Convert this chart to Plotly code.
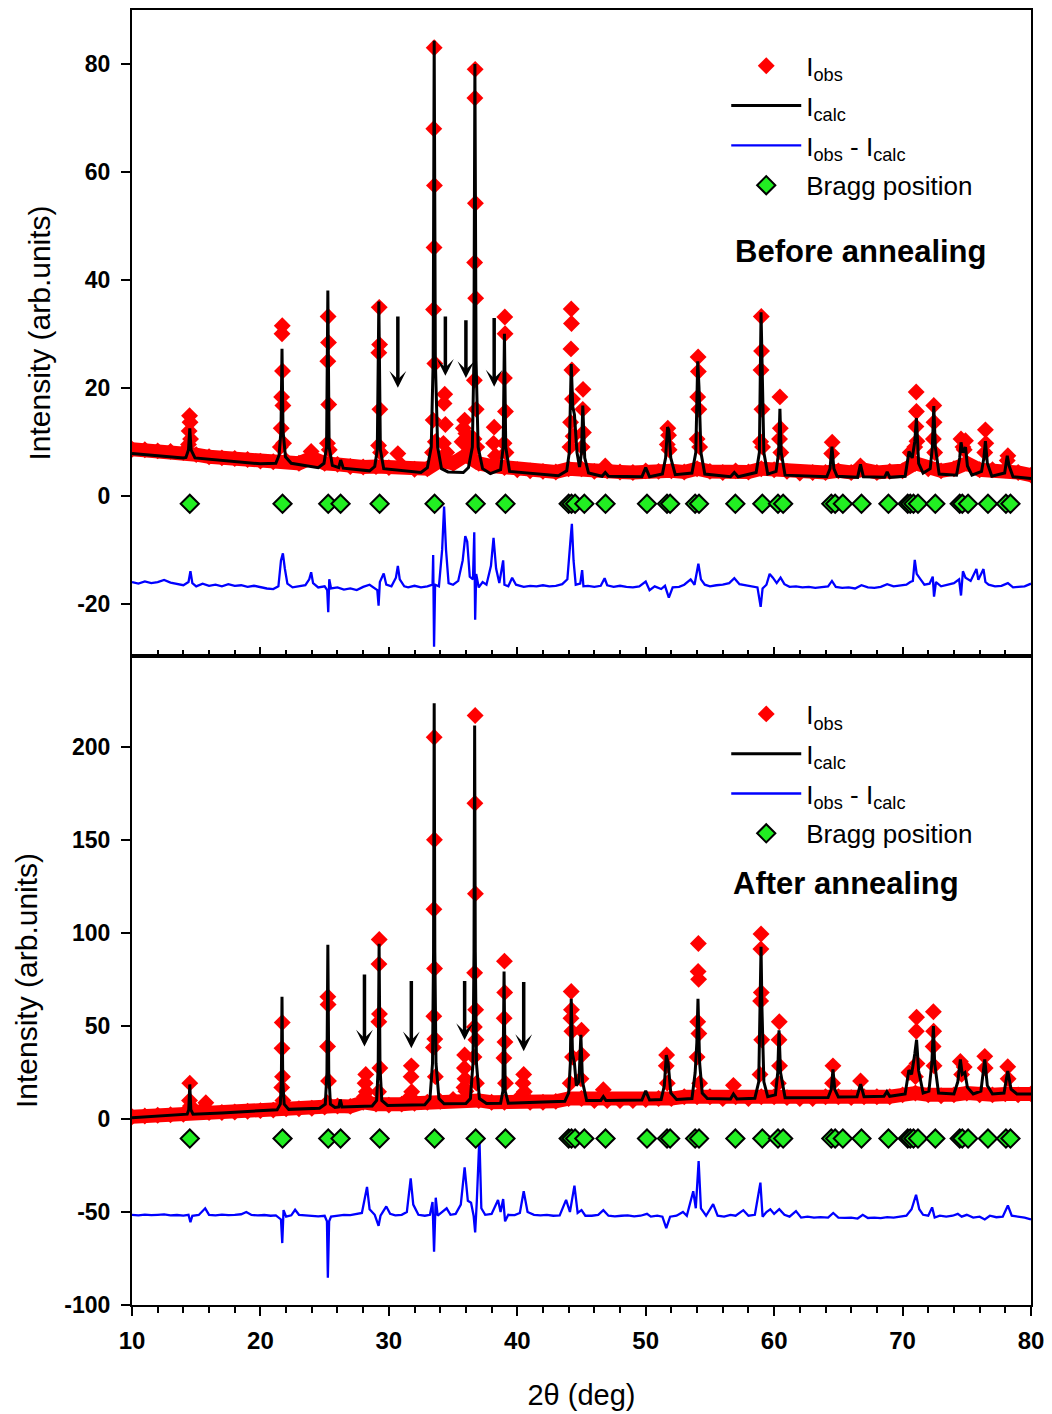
import plotly.graph_objects as go

# ---------------- shared ----------------
bragg_pos = [14.5, 21.72, 25.28, 26.24, 29.28, 33.56, 36.76, 39.08, 44.0, 44.22, 44.5, 45.22,
             46.87, 50.1, 51.66, 51.9, 53.85, 54.15, 56.98, 59.08, 60.3, 60.7, 64.45, 64.75,
             65.35, 66.8, 68.9, 70.4, 70.6, 70.85, 71.2, 72.55, 74.45, 74.65, 75.1, 76.65,
             78.05, 78.4]
x_ticks = [10, 20, 30, 40, 50, 60, 70, 80]
top_y_ticks = [-20, 0, 20, 40, 60, 80]
top_y_labels = ["-20", "0", "20", "40", "60", "80"]
bot_y_ticks = [-100, -50, 0, 50, 100, 150, 200]
bot_y_labels = ["-100", "-50", "0", "50", "100", "150", "200"]
top_bragg_y = -1.5
bot_bragg_y = -10.5

# ---------------- top panel : before annealing ----------------
top_bg_x = list(range(10, 81))
top_bg_y = [8.6, 8.5, 8.3, 8.2, 8.0, 7.6, 7.2, 7.0, 6.9, 6.7, 6.4, 6.3, 6.5, 6.0, 7.0, 6.0,
            5.8, 5.4, 5.3, 5.4, 5.2, 5.6, 4.9, 5.0, 6.5, 6.0, 7.5, 6.0, 5.5, 5.2, 4.8, 4.6,
            4.5, 4.4, 5.0, 5.0, 4.5, 4.6, 4.4, 4.3, 4.6, 4.5, 4.6, 4.4, 5.0, 4.5, 4.3, 4.6,
            4.4, 5.0, 4.8, 4.5, 4.2, 4.3, 4.3, 4.6, 4.3, 4.8, 4.3, 4.5, 4.6, 6.0, 5.0, 4.6,
            5.0, 6.0, 4.8, 4.8, 4.8, 4.3, 3.8]

top_obs_x = [14.48, 14.52, 14.45, 14.56, 14.4,
             21.7, 21.68, 21.72, 21.65, 21.75, 21.62, 21.8, 21.55,
             23.95,
             25.27, 25.3, 25.25, 25.32, 25.22, 25.36,
             29.25, 29.28, 29.22, 29.3, 29.2, 29.35,
             30.7,
             33.53, 33.5, 33.55, 33.52, 33.48, 33.58, 33.45, 33.62, 33.4,
             34.35, 34.3, 34.4, 34.25, 34.5,
             35.9, 35.8, 36.0, 35.7, 36.1, 36.3,
             36.72, 36.7, 36.74, 36.68, 36.76, 36.66, 36.8, 36.63, 36.85,
             38.2, 38.15, 38.3,
             39.03, 39.05, 39.0, 39.08, 38.97, 39.12,
             44.2, 44.22, 44.18, 44.25, 44.3, 44.15, 44.35, 44.1,
             45.12, 45.1, 45.15, 45.05,
             46.85,
             51.72, 51.78, 51.68, 51.82,
             54.08, 54.1, 54.05, 54.14, 54.0, 54.2,
             59.0, 59.02, 58.98, 59.05, 58.95, 59.1,
             60.45, 60.48, 60.42, 60.52,
             64.52, 64.48,
             66.72,
             71.06, 71.08, 71.04, 71.12, 70.95, 70.6,
             72.43, 72.45, 72.4, 72.5,
             74.55, 74.7, 74.9, 74.8,
             76.45, 76.48, 76.4,
             78.2, 78.15]
top_obs_y = [14.8, 13.6, 12.0, 10.5, 9.5,
             31.5, 30.0, 23.1, 18.3, 16.7, 12.5, 9.7, 9.0,
             8.2,
             33.2, 28.4, 24.9, 16.9, 9.7, 8.5,
             34.9, 28.0, 26.5, 16.0, 9.3, 8.0,
             7.8,
             83.0, 68.0, 57.5, 46.0, 34.5, 24.5, 14.0, 10.0, 8.0,
             18.8, 17.1, 13.2, 9.7, 8.0,
             14.0, 12.5, 11.5, 10.0, 9.5, 8.5,
             79.0, 73.7, 54.2, 43.2, 36.6, 21.4, 16.0, 10.5, 9.0,
             12.7, 9.7, 7.4,
             33.1, 30.0, 21.8, 15.6, 9.7, 8.0,
             34.6, 31.9, 27.2, 23.3, 17.9, 13.6, 11.0, 9.0,
             19.7, 16.0, 11.7, 9.0,
             5.5,
             12.5, 11.2, 9.5, 8.5,
             25.7, 23.0, 18.3, 16.0, 10.5, 9.0,
             33.2, 26.8, 23.3, 16.0, 10.0, 9.0,
             18.3, 12.5, 10.5, 8.0,
             9.9, 7.8,
             5.5,
             19.2, 15.6, 12.8, 10.1, 9.0, 8.0,
             16.7, 13.6, 10.5, 8.0,
             10.5, 9.0, 10.2, 8.5,
             12.2, 9.7, 8.0,
             7.4, 6.5]

top_calc_x = [10, 12, 14, 14.2, 14.4, 14.5, 14.6, 14.9, 17, 20, 21.2, 21.45, 21.6, 21.68,
              21.76, 21.95, 22.4, 24.5, 24.95, 25.15, 25.25, 25.35, 25.6, 26.1, 26.25, 26.45,
              28.5, 28.9, 29.1, 29.22, 29.34, 29.6, 32.5, 33.0, 33.3, 33.45, 33.53, 33.62,
              33.8, 34.1, 34.6, 35.8, 36.2, 36.5, 36.62, 36.7, 36.79, 36.95, 37.3, 37.9,
              38.7, 38.9, 39.0, 39.1, 39.4, 43.2, 43.85, 44.05, 44.2, 44.32, 44.45, 44.65,
              44.85, 45.0, 45.1, 45.25, 45.55, 46.6, 46.85, 47.1, 49.7, 50.0, 50.3, 51.3,
              51.55, 51.7, 51.8, 51.95, 52.3, 53.6, 53.9, 54.05, 54.15, 54.3, 54.6, 56.6,
              56.9, 57.2, 58.6, 58.85, 58.98, 59.08, 59.2, 59.5, 60.15, 60.35, 60.45, 60.55,
              60.85, 64.1, 64.35, 64.5, 64.65, 64.9, 66.5, 66.72, 66.95, 68.6, 68.8, 69.0,
              70.2, 70.5, 70.75, 70.95, 71.08, 71.25, 71.6, 72.15, 72.32, 72.43, 72.55, 72.85,
              74.2, 74.45, 74.55, 74.7, 74.9, 75.05, 75.4, 76.15, 76.33, 76.45, 76.6, 76.95,
              77.95, 78.15, 78.3, 78.6, 80]
top_calc_y = [7.8, 7.4, 7.0, 7.1, 8.5, 12.5, 8.5, 7.0, 6.5, 5.9, 6.0, 7.5, 12.0, 27.2,
              12.0, 7.2, 6.0, 5.2, 6.0, 9.0, 38.0, 9.0, 5.6, 5.2, 6.6, 5.1,
              4.6, 5.4, 8.5, 36.0, 8.5, 5.0, 4.3, 5.2, 9.0, 25.0, 84.3, 25.0,
              9.0, 5.0, 4.4, 4.3, 5.2, 9.0, 25.0, 80.0, 25.0, 9.0, 5.0, 4.1,
              4.8, 9.0, 30.0, 9.0, 4.5, 3.7, 4.6, 8.0, 24.4, 16.5, 15.0, 8.0,
              5.3, 8.0, 16.7, 7.0, 4.2, 3.6, 4.3, 3.6, 3.5, 5.2, 3.5, 4.0,
              7.0, 12.7, 12.2, 7.0, 3.9, 4.2, 8.0, 24.9, 20.0, 8.0, 4.0, 3.5,
              4.3, 3.5, 4.3, 8.0, 34.0, 24.0, 8.0, 4.0, 4.5, 8.0, 16.1, 8.0,
              3.8, 3.5, 5.0, 9.1, 5.0, 3.6, 3.4, 5.8, 3.5, 3.4, 4.4, 3.4,
              3.6, 8.2, 7.0, 10.0, 14.4, 6.0, 4.2, 5.0, 9.0, 16.6, 9.0, 4.0,
              3.8, 7.0, 9.9, 8.0, 9.0, 5.5, 3.8, 4.5, 7.0, 10.1, 6.0, 3.6,
              4.2, 7.4, 5.5, 3.5, 3.2]

top_diff_x = [10, 10.5, 11, 11.5, 12, 12.5, 13, 13.5, 14, 14.4, 14.55, 14.7, 15, 15.5, 16,
              16.5, 17, 17.5, 18, 18.5, 19, 19.5, 20, 20.5, 21, 21.4, 21.6, 21.75, 21.9,
              22.1, 22.5, 23, 23.5, 23.8, 23.95, 24.1, 24.5, 25.0, 25.2, 25.28, 25.36,
              25.5, 26, 26.5, 27, 27.5, 28, 28.5, 29.1, 29.2, 29.3, 29.6, 29.8, 30.2,
              30.55, 30.7, 30.85, 31.2, 31.5, 32, 32.5, 33.0, 33.4, 33.45, 33.52, 33.6,
              33.9, 34.15, 34.3, 34.45, 34.65, 35.0, 35.4, 35.75, 35.95, 36.1, 36.3,
              36.55, 36.65, 36.72, 36.8, 37.0, 37.3, 37.6, 37.95, 38.15, 38.35, 38.6,
              38.9, 39.0, 39.3, 39.6, 39.9, 40.5, 41.0, 41.5, 42, 42.5, 43, 43.5, 43.9,
              44.15, 44.25, 44.38, 44.55, 44.9, 45.05, 45.15, 45.5, 46, 46.5, 46.8, 47.0,
              47.5, 48, 48.5, 49, 49.5, 50.0, 50.3, 50.7, 51.2, 51.5, 51.8, 52.1, 52.6,
              53.0, 53.5, 53.8, 54.1, 54.3, 54.6, 55, 55.5, 56, 56.5, 56.9, 57.3, 57.8,
              58.3, 58.7, 58.95, 59.1, 59.4, 59.65, 59.9, 60.2, 60.5, 60.8, 61.2, 61.7,
              62.2, 62.7, 63.2, 63.7, 64.2, 64.5, 64.8, 65.3, 65.8, 66.3, 66.8, 67.3,
              67.8, 68.3, 68.8, 69.3, 69.8, 70.3, 70.6, 70.8, 70.95, 71.1, 71.4, 71.7,
              72.1, 72.35, 72.45, 72.6, 73.0, 73.5, 74.0, 74.4, 74.55, 74.7, 74.9, 75.3,
              75.75, 75.9, 76.3, 76.45, 76.7, 77.2, 77.7, 78.2, 78.6, 79.0, 79.5, 80]
top_diff_y = [-16.0, -16.3, -15.9, -16.2, -16.0, -15.6, -16.1, -16.4, -16.6, -16.0, -14.0,
              -16.2, -16.8, -16.3, -16.7, -16.5, -16.8, -16.4, -16.7, -16.6, -16.9, -16.7,
              -17.0, -17.2, -17.3, -16.8, -12.0, -10.7, -13.5, -16.3, -17.0, -16.8, -16.6,
              -15.5, -14.2, -16.2, -17.0, -16.8, -17.5, -21.6, -15.5, -17.2, -17.0, -17.4,
              -17.2, -17.5, -16.9, -16.5, -17.5, -20.4, -16.0, -14.4, -16.5, -16.8, -15.2,
              -13.0, -15.5, -16.8, -17.0, -16.7, -17.0, -16.8, -16.5, -11.0, -28.0, -16.5,
              -16.8, -10.0, -2.0, -10.0, -16.2, -16.5, -15.8, -12.0, -7.5, -8.5, -15.0,
              -15.5, -6.8, -23.0, -14.5, -17.0, -16.0, -16.5, -13.0, -7.8, -13.5, -16.2,
              -12.0, -16.5, -16.8, -15.2, -16.5, -16.9, -16.7, -16.8, -16.6, -16.8, -16.7,
              -16.4, -15.5, -8.0, -5.2, -12.0, -16.5, -16.3, -13.8, -16.8, -16.7, -16.9,
              -16.7, -15.3, -16.6, -16.9, -16.7, -16.9, -17.0, -16.8, -15.9, -17.5, -16.8,
              -17.3, -16.7, -18.9, -17.0, -16.9, -16.5, -15.5, -16.5, -12.6, -15.5, -16.5,
              -16.8, -16.6, -16.5, -16.2, -15.3, -16.4, -16.6, -16.8, -17.0, -20.6, -17.2,
              -16.5, -14.5, -15.2, -16.2, -15.2, -16.4, -16.9, -16.8, -17.0, -16.9, -17.1,
              -17.0, -16.8, -15.8, -16.9, -17.1, -17.0, -17.2, -16.6, -17.0, -17.1, -16.9,
              -16.4, -16.8, -16.6, -16.5, -16.0, -15.8, -11.9, -14.5, -15.5, -16.5, -16.3,
              -15.0, -18.7, -16.0, -16.8, -16.5, -16.2, -15.5, -18.5, -14.0, -15.2, -15.8,
              -13.6, -15.6, -13.6, -16.0, -16.5, -16.8, -16.7, -16.2, -17.0, -16.9, -16.8,
              -16.3]

top_arrow_x = [30.7, 34.4, 36.0, 38.2]
top_arrow_tail = [33.5, 33.5, 32.8, 33.2]
top_arrow_head = [20.0, 22.2, 21.8, 20.2]

# ---------------- bottom panel : after annealing ----------------
bot_bg_x = list(range(10, 81))
bot_bg_y = [1.2, 1.6, 2.0, 2.3, 2.6, 4.0, 3.5, 3.5, 3.8, 4.2, 4.5, 4.8, 5.5, 5.5, 5.8, 6.5,
            7.0, 6.8, 9.0, 8.0, 7.5, 8.0, 8.5, 9.0, 9.5, 10.5, 11.0, 10.0, 9.0, 9.0, 10.5,
            9.0, 9.0, 9.5, 11.0, 11.0, 10.0, 10.0, 10.0, 10.0, 10.5, 11.0, 11.0, 12.0, 12.0,
            12.0, 11.0, 12.0, 11.0, 12.0, 12.0, 11.5, 11.0, 11.0, 12.0, 12.0, 11.5, 12.0,
            12.0, 12.0, 13.0, 14.0, 13.0, 12.5, 13.0, 14.0, 13.0, 13.0, 13.5, 13.0, 13.5]

bot_obs_x = [14.5, 14.48, 14.55,
             15.75, 15.65,
             21.7, 21.68, 21.72, 21.66, 21.75,
             25.25, 25.27, 25.23, 25.3, 25.2,
             28.2, 28.15, 28.25, 28.1,
             29.25, 29.23, 29.27, 29.22, 29.3, 29.2,
             31.75, 31.73, 31.78, 31.65,
             33.53, 33.55, 33.51, 33.56, 33.5, 33.58, 33.47, 33.62,
             35.9, 35.88, 35.93, 35.85, 36.0,
             36.72, 36.7, 36.74, 36.68, 36.76, 36.66, 36.78, 36.63, 36.82,
             39.0, 39.02, 38.98, 39.04, 38.96, 39.08,
             40.5, 40.45, 40.55,
             44.2, 44.22, 44.18, 44.25, 44.3, 44.12,
             45.0, 45.03, 44.96,
             46.7,
             51.63, 51.6, 51.68,
             54.1, 54.08, 54.12, 54.05, 54.14, 54.0, 54.2,
             56.83,
             58.98, 58.97, 59.0, 58.95, 59.03, 58.9,
             60.4, 60.38, 60.42, 60.33,
             64.58, 64.55,
             66.73,
             71.09, 71.07, 71.12, 71.0, 70.5,
             72.4, 72.42, 72.38, 72.45,
             74.5, 74.6, 74.8,
             76.4, 76.43,
             78.19, 78.22]
bot_obs_y = [19.3, 10.0, 7.0,
             8.8, 6.5,
             51.9, 38.0, 22.8, 17.0, 10.0,
             65.8, 61.6, 39.0, 20.5, 8.8,
             24.0, 19.3, 14.7, 12.0,
             96.5, 83.3, 56.5, 52.3, 27.4, 14.7,
             28.6, 22.8, 14.7, 12.0,
             205.3, 150.2, 112.8, 80.9, 55.3, 43.0, 38.4, 22.8,
             34.4, 27.4, 21.6, 17.0, 15.0,
             217.0, 169.8, 121.2, 78.6, 58.8, 49.5, 42.6, 33.3, 19.3,
             84.9, 68.1, 54.2, 41.4, 32.8, 19.3,
             24.0, 19.3, 14.7,
             68.6, 58.8, 54.2, 47.2, 33.3, 19.3,
             47.7, 34.4, 21.6,
             15.8,
             34.4, 28.6, 19.3,
             94.4, 79.3, 75.1, 52.3, 46.0, 33.3, 19.3,
             18.1,
             99.5, 91.4, 68.1, 63.5, 42.6, 24.0,
             52.3, 42.6, 28.6, 19.3,
             28.6, 19.3,
             20.5,
             54.7, 47.2, 29.8, 22.8, 25.0,
             57.7, 47.2, 39.0, 28.6,
             30.9, 24.0, 28.0,
             33.7, 27.4,
             28.1, 21.6]

bot_calc_x = [10, 12, 14, 14.3, 14.42, 14.5, 14.58, 14.75, 17, 20, 21.3, 21.55, 21.63, 21.68,
              21.74, 21.85, 22.2, 24.6, 25.05, 25.18, 25.25, 25.32, 25.45, 25.8, 26.1, 26.22,
              26.35, 28.7, 29.05, 29.17, 29.24, 29.31, 29.45, 29.9, 32.8, 33.2, 33.4, 33.48,
              33.53, 33.58, 33.67, 33.9, 34.3, 36.0, 36.35, 36.55, 36.63, 36.68, 36.73, 36.82,
              37.05, 37.6, 38.7, 38.88, 38.97, 39.06, 39.3, 43.7, 44.0, 44.13, 44.2, 44.3,
              44.45, 44.6, 44.8, 44.95, 45.08, 45.4, 46.5, 46.7, 46.9, 49.7, 50.0, 50.3, 51.2,
              51.45, 51.6, 51.75, 51.95, 52.4, 53.6, 53.85, 53.98, 54.07, 54.2, 54.4, 54.8,
              56.6, 56.83, 57.1, 58.5, 58.8, 58.93, 58.98, 59.05, 59.2, 59.5, 60.1, 60.28,
              60.38, 60.5, 60.85, 64.2, 64.45, 64.58, 64.72, 65.0, 66.45, 66.73, 67.0, 68.55,
              68.78, 69.0, 70.2, 70.49, 70.7, 70.95, 71.09, 71.25, 71.6, 72.05, 72.28, 72.4,
              72.5, 72.8, 74.0, 74.3, 74.5, 74.65, 74.85, 75.05, 75.5, 76.1, 76.4, 76.6, 77.0,
              77.9, 78.19, 78.45, 78.9, 80]
bot_calc_y = [0.7, 1.5, 2.2, 2.6, 5.0, 18.6, 5.0, 2.6, 3.3, 4.4, 5.0, 8.0, 20.0, 65.8,
              20.0, 8.0, 5.2, 5.8, 8.0, 25.0, 93.7, 25.0, 8.0, 6.2, 6.5, 10.5,
              6.5, 7.0, 10.0, 28.0, 94.2, 28.0, 10.0, 7.3, 7.7, 11.0, 30.0, 90.0,
              223.5, 90.0, 30.0, 11.0, 8.2, 8.3, 11.0, 30.0, 90.0, 211.6, 90.0, 30.0,
              11.0, 8.3, 8.5, 15.0, 79.3, 15.0, 8.5, 9.5, 14.0, 30.0, 64.7, 35.0,
              30.0, 18.0, 20.0, 45.3, 20.0, 10.0, 10.0, 12.0, 10.0, 10.2, 15.1, 10.2, 10.5,
              18.0, 34.4, 30.0, 14.0, 10.5, 11.0, 25.0, 41.0, 64.7, 30.0, 14.0, 11.0,
              10.8, 13.5, 10.8, 11.2, 20.0, 60.0, 92.6, 60.0, 20.0, 12.0, 13.0, 25.0,
              47.7, 25.0, 11.5, 11.6, 16.0, 26.7, 16.0, 11.8, 12.0, 18.8, 12.0, 12.2,
              14.7, 12.2, 13.5, 26.3, 24.0, 35.0, 42.6, 26.0, 14.0, 15.0, 30.0, 50.0,
              30.0, 14.0, 13.5, 20.0, 32.0, 24.0, 25.0, 17.0, 13.5, 15.0, 32.0, 18.0, 13.5,
              14.0, 25.8, 16.0, 13.5, 13.5]

bot_diff_x = [10, 10.5, 11, 11.5, 12, 12.5, 13, 13.5, 14, 14.4, 14.55, 14.7, 15.2, 15.7,
              16.0, 16.5, 17, 17.5, 18, 18.5, 18.9, 19.3, 19.8, 20.3, 20.8, 21.2, 21.6,
              21.7, 21.8, 22.0, 22.4, 22.7, 23.0, 23.5, 24, 24.5, 25.0, 25.18, 25.25, 25.35,
              25.5, 26, 26.5, 27, 27.6, 27.9, 28.3, 28.5, 28.9, 29.2, 29.35, 29.8, 30.1,
              30.5, 31.0, 31.4, 31.7, 31.9, 32.3, 32.8, 33.2, 33.4, 33.52, 33.65, 33.8,
              34.1, 34.5, 34.8, 35.2, 35.6, 35.9, 36.15, 36.4, 36.6, 36.72, 36.85, 37.05,
              37.2, 37.5, 38.0, 38.5, 38.7, 38.9, 39.05, 39.3, 39.8, 40.2, 40.5, 40.8, 41.3,
              41.8, 42.3, 42.8, 43.3, 43.8, 44.1, 44.45, 44.7, 45.0, 45.3, 45.8, 46.3, 46.7,
              47.1, 47.6, 48.1, 48.6, 49.1, 49.6, 50.1, 50.4, 50.9, 51.3, 51.6, 51.9, 52.4,
              52.9, 53.2, 53.7, 53.9, 54.12, 54.3, 54.7, 55.25, 55.6, 56.1, 56.6, 57.0,
              57.6, 58.0, 58.5, 58.93, 59.1, 59.4, 59.7, 60.0, 60.4, 60.8, 61.2, 61.7, 62.1,
              62.6, 63.1, 63.6, 64.2, 64.6, 65.0, 65.5, 66.0, 66.5, 66.9, 67.3, 67.8, 68.3,
              68.8, 69.3, 69.8, 70.3, 70.7, 71.05, 71.3, 71.6, 72.0, 72.3, 72.5, 72.9, 73.4,
              73.9, 74.3, 74.6, 75.0, 75.5, 76.0, 76.4, 76.8, 77.3, 77.8, 78.2, 78.5, 79.0,
              79.5, 80]
bot_diff_y = [-51.5, -51.8, -51.4, -51.7, -51.5, -51.3, -51.8, -51.6, -51.9, -51.5, -55.5,
              -52.0, -51.6, -48.0, -51.5, -51.8, -51.4, -51.7, -51.5, -51.2, -50.0, -51.6,
              -51.8, -51.6, -52.0, -51.8, -54.0, -66.7, -49.0, -52.5, -51.8, -48.8, -51.5,
              -51.9, -52.0, -52.3, -52.0, -55.0, -85.3, -55.0, -52.5, -52.0, -51.5, -51.7,
              -51.0, -50.5, -36.5, -48.5, -51.5, -57.4, -52.0, -47.0, -51.0, -51.8, -51.5,
              -50.0, -31.9, -46.0, -51.5, -52.0, -51.5, -44.6, -71.4, -42.3, -52.0, -50.5,
              -48.0, -51.5, -51.0, -46.0, -26.0, -44.0, -45.0, -52.0, -61.0, -44.0, -9.8,
              -48.0, -51.5, -51.0, -43.5, -50.0, -43.0, -55.0, -51.5, -51.7, -50.5, -38.8,
              -50.0, -51.5, -51.8, -51.5, -52.0, -51.8, -43.5, -50.0, -35.8, -50.5, -49.0,
              -52.0, -52.0, -51.5, -49.0, -52.0, -52.3, -52.0, -51.8, -52.3, -52.0, -51.0,
              -52.5, -52.0, -52.5, -58.6, -52.5, -52.0, -50.0, -52.0, -38.8, -48.0, -22.6,
              -48.0, -52.0, -45.8, -52.0, -52.5, -51.5, -52.0, -49.0, -52.0, -51.5, -34.2,
              -52.5, -50.0, -48.5, -51.0, -48.5, -51.5, -52.5, -49.5, -53.0, -52.5, -53.0,
              -52.8, -53.0, -50.5, -53.0, -53.2, -53.0, -53.5, -51.5, -53.2, -53.0, -53.3,
              -52.8, -53.0, -52.5, -52.0, -48.5, -40.7, -48.5, -51.5, -52.0, -47.5, -53.0,
              -52.0, -52.5, -52.0, -51.0, -52.5, -51.5, -53.0, -52.5, -54.0, -52.0, -52.8,
              -52.5, -46.5, -52.0, -52.5, -53.0, -54.0]

bot_arrow_x = [28.1, 31.75, 35.9, 40.5]
bot_arrow_tail = [78.5, 75.0, 75.0, 74.5]
bot_arrow_head = [39.0, 38.0, 42.5, 36.5]

# ---------------- styling ----------------
RED = "#ff0000"
BLUE = "#0000ff"
GREEN = "#22ee22"
SANS = "Liberation Sans, Arial, sans-serif"
NARROW = "Liberation Sans Narrow, Arial Narrow, sans-serif"
split = 0.5012

fig = go.Figure()


def add_panel(xa, ya, bg_x, bg_y, ox, oy, cx, cy, dx, dy, bragg_y, leg):
    # dense observed background band
    fig.add_trace(go.Scatter(x=bg_x, y=bg_y, mode="lines+markers", xaxis=xa, yaxis=ya,
                             line=dict(color=RED, width=14),
                             marker=dict(symbol="diamond", size=13, color=RED),
                             showlegend=False, hoverinfo="skip"))
    fig.add_trace(go.Scatter(x=ox, y=oy, mode="markers", xaxis=xa, yaxis=ya,
                             marker=dict(symbol="diamond", size=13, color=RED),
                             name="I<sub>obs</sub>", legend=leg, legendgroup=leg + "a"))
    fig.add_trace(go.Scatter(x=cx, y=cy, mode="lines", xaxis=xa, yaxis=ya,
                             line=dict(color="black", width=3),
                             name="I<sub>calc</sub>", legend=leg, legendgroup=leg + "b"))
    fig.add_trace(go.Scatter(x=dx, y=dy, mode="lines", xaxis=xa, yaxis=ya,
                             line=dict(color=BLUE, width=2.3),
                             name="I<sub>obs</sub> - I<sub>calc</sub>", legend=leg,
                             legendgroup=leg + "c"))
    fig.add_trace(go.Scatter(x=bragg_pos, y=[bragg_y] * len(bragg_pos), mode="markers",
                             xaxis=xa, yaxis=ya,
                             marker=dict(symbol="diamond", size=14, color=GREEN,
                                         line=dict(color="black", width=2)),
                             name="Bragg position", legend=leg, legendgroup=leg + "d"))


add_panel("x", "y", top_bg_x, top_bg_y, top_obs_x, top_obs_y, top_calc_x, top_calc_y,
          top_diff_x, top_diff_y, top_bragg_y, "legend")
add_panel("x2", "y2", bot_bg_x, bot_bg_y, bot_obs_x, bot_obs_y, bot_calc_x, bot_calc_y,
          bot_diff_x, bot_diff_y, bot_bragg_y, "legend2")

annotations = []
for xs, tails, heads, xr, yr in [(top_arrow_x, top_arrow_tail, top_arrow_head, "x", "y"),
                                 (bot_arrow_x, bot_arrow_tail, bot_arrow_head, "x2", "y2")]:
    for xv, t, h in zip(xs, tails, heads):
        annotations.append(dict(x=xv, y=h, ax=xv, ay=t, xref=xr, yref=yr, axref=xr,
                                ayref=yr, text="", showarrow=True, arrowhead=3,
                                arrowsize=0.8, arrowwidth=3.5, arrowcolor="black"))

annotations.append(dict(text="<b>Before annealing</b>", xref="paper", yref="paper",
                        x=0.668, y=0.8137, xanchor="left", yanchor="middle", showarrow=False,
                        font=dict(family=SANS, size=31, color="black")))
annotations.append(dict(text="<b>After annealing</b>", xref="paper", yref="paper",
                        x=0.666, y=0.3256, xanchor="left", yanchor="middle", showarrow=False,
                        font=dict(family=SANS, size=31, color="black")))

xcommon = dict(range=[10, 80], tickvals=x_ticks, showline=True, linecolor="black",
               linewidth=2, mirror=True, ticklen=9, tickwidth=1.5, tickcolor="black",
               showgrid=False, zeroline=False,
               minor=dict(dtick=2, tick0=10, ticklen=6, tickwidth=1.5, tickcolor="black"))
ycommon = dict(showline=True, linecolor="black", linewidth=2, mirror=True, ticks="outside",
               ticklen=9, tickwidth=1.5, tickcolor="black", showgrid=False, zeroline=False,
               ticklabelstandoff=6,
               tickfont=dict(family=SANS, size=23, color="black", weight="bold"),
               title=dict(text="Intensity (arb.units)", standoff=18,
                          font=dict(family=SANS, size=30, color="black")))

legend_common = dict(xanchor="left", yanchor="top", bgcolor="rgba(0,0,0,0)",
                     font=dict(family=SANS, size=26, color="black"), tracegroupgap=3,
                     itemwidth=70)

fig.update_layout(
    width=1052, height=1414,
    margin=dict(l=132, r=20, t=8, b=107),
    paper_bgcolor="white", plot_bgcolor="white",
    xaxis=dict(**xcommon, anchor="y", domain=[0, 1], ticks="inside", showticklabels=False,
               matches="x2"),
    xaxis2=dict(**xcommon, anchor="y2", domain=[0, 1], ticks="outside",
                ticklabelstandoff=4,
                tickfont=dict(family=SANS, size=24, color="black", weight="bold"),
                title=dict(text="2\u03b8 (deg)", standoff=32,
                           font=dict(family=NARROW, size=29, color="black"))),
    yaxis=dict(**ycommon, anchor="x", domain=[split, 1], range=[-29.7, 90],
               tickvals=top_y_ticks, ticktext=top_y_labels),
    yaxis2=dict(**ycommon, anchor="x2", domain=[0, split], range=[-100, 249],
                tickvals=bot_y_ticks, ticktext=bot_y_labels),
    legend=dict(**legend_common, x=0.661, y=0.975),
    legend2=dict(**legend_common, x=0.661, y=0.4745),
    annotations=annotations,
)
fig.update_xaxes(minor_ticks="inside", selector=dict(anchor="y"))
fig.update_xaxes(minor_ticks="outside", selector=dict(anchor="y2"))

fig.write_html("out.html")
